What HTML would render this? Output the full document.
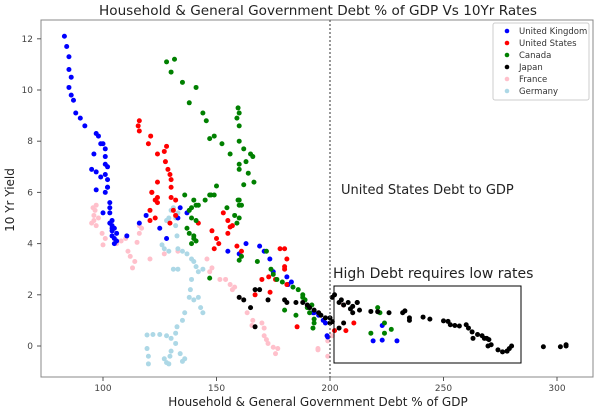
<!DOCTYPE html>
<html><head><meta charset="utf-8">
<style>
body{margin:0;background:#fff;}
svg{display:block;font-family:"DejaVu Sans","Liberation Sans",sans-serif;}
</style></head>
<body>
<svg id="chart" width="606" height="416" viewBox="0 0 606 416" xmlns="http://www.w3.org/2000/svg">
<text x="318" y="15" text-anchor="middle" font-size="13.6" fill="#222">Household &amp; General Government Debt % of GDP Vs 10Yr Rates</text>
<rect x="41" y="20" width="552" height="357" fill="#fff" stroke="#888" stroke-width="1"/>
<g id="xticks"></g>
<g id="yticks"></g>
<text x="318" y="406" text-anchor="middle" font-size="12" fill="#222">Household &amp; General Government Debt % of GDP</text>
<text transform="translate(14,200) rotate(-90)" text-anchor="middle" font-size="12" fill="#222">10 Yr Yield</text>
<g id="points"></g>
<line id="vline" stroke="#555" stroke-width="1.2" stroke-dasharray="2,2"/>
<text x="341" y="194" font-size="13" fill="#222">United States Debt to GDP</text>
<text x="333" y="278" font-size="14" fill="#222">High Debt requires low rates</text>
<rect x="334" y="286" width="187" height="77" fill="none" stroke="#000" stroke-width="1"/>
<g>
<rect x="493" y="23" width="96" height="77" fill="#fff" stroke="#ccc" rx="2"/>
<g id="legend-items"></g>
</g>
</svg>
<script>
const xTicks=[100,150,200,250,300];
const yTicks=[0,2,4,6,8,10,12];
const seriesNames=["United Kingdom","United States","Canada","Japan","France","Germany"];
const seriesColors=["#0000ff","#ff0000","#008000","#000000","#ffc0cb","#add8e6"];
const usDebt=200;
const ukX=[83,84,85,85,86,85,86,87,88,90,92,97,98,99,100,101,96,101,101,102,95,97,101,99,102,102,101,97,103,103,100,104,104,104,104,105,105,106,104,105,102,103,103,106,110.5,116,119,125,128,133,137,134,155,160,163,169,171,173.5,175,181,181.5,183,192.5,195,197,198,198.7,199,193,223,223,219,229.5];
const ukY=[12.1,11.7,11.3,10.8,10.5,10.1,9.8,9.6,9.1,8.9,8.6,8.3,8.2,7.9,7.9,7.7,7.5,7.4,7.1,7.0,6.9,6.8,6.7,6.6,6.5,6.2,6.0,6.1,5.6,5.4,5.2,4.9,4.7,4.5,4.3,4.2,4.0,4.1,4.6,4.6,6.2,5.2,4.8,4.4,4.3,4.8,5.1,4.6,4.2,5.0,5.2,5.4,3.7,3.6,4.0,3.9,3.7,3.4,2.9,2.7,2.4,2.5,1.3,1.2,1.0,0.9,0.4,0.35,1.3,0.8,0.23,0.2,0.2];
const usX=[116,115.5,116,121,120,128,127,124,127.5,128.6,129.5,130,130,124,121.5,124,132,124,121.5,123,120.7,120.7,123,130,131,129.5,132,142,153,155,156,148,150,149,151,159,161,178,180,181,180,170,173,176,180,181,173.6,185.5,167,202,207,210.5,206,155,157];
const usY=[8.8,8.6,8.4,8.2,7.9,7.8,7.6,7.5,7.2,6.9,6.7,6.5,6.2,6.4,6.0,5.8,5.7,5.6,6.0,5.7,5.3,4.9,5.0,5.8,5.3,4.8,5.1,4.8,5.2,4.9,4.65,4.5,4.2,3.8,4.0,3.9,3.7,3.8,3.8,3.4,3.1,2.6,2.7,2.6,3.0,2.4,2.1,0.75,2.0,0.6,0.6,0.9,1.6,4.4,4.7];
const caX=[128,131.5,130,135,141,138,144,145.5,147,149,152.4,156,159.5,160,159,160,160,162,165,166,160,160,164,163,166.5,162,150,147.6,145,136,140,154.6,160,161,139,141,142,158,138,139,141,137,138,140,141,139,140,147,149,159.5,160,160,159,160,161,147,168,172,174,175,176.6,179,183.7,186,188,189,190,192,185,180,191,193,193,192.5,188,221,222,218,224,224,227];
const caY=[11.1,11.2,10.7,10.3,10.1,9.5,9.1,8.8,8.1,8.2,7.9,7.5,9.3,9.1,8.9,8.6,8.0,7.7,7.5,7.4,7.1,6.9,6.75,7.2,6.4,6.3,6.25,5.9,5.7,5.9,5.7,5.4,5.7,5.5,5.4,5.5,5.5,5.1,5.3,5.0,4.9,4.6,4.4,4.3,4.1,4.0,4.2,5.9,5.9,5.7,5.5,5.0,4.8,3.35,3.5,2.65,3.3,3.7,3.0,2.8,2.6,2.5,2.3,2.2,2.0,1.8,1.5,1.6,1.2,1.4,1.3,1.05,0.9,0.7,1.9,1.5,1.3,0.5,0.5,0.9,0.65];
const jpX=[160,162,165,167,169,167,172.7,180,181,185,188,190,191,193,195,196,198,200,201,202,204,205,206,208,209,210,212,210,213,212,218,221,226,232,233,235,235,241,244,250,252,253,255,257,260,261,262.6,263,265,267,268,269,270,269.6,271,274,276,278,279,280,278,294,301.5,304,304,201,200,204,206];
const jpY=[1.9,1.8,1.5,2.2,2.2,0.75,1.8,1.8,1.7,1.7,1.7,1.6,1.5,1.4,1.3,1.2,1.1,0.9,1.9,2.0,1.7,1.8,1.6,1.7,1.45,1.55,1.7,1.3,1.4,1.7,1.35,1.34,1.3,1.3,1.37,1.0,1.1,1.13,1.05,0.98,0.96,0.83,0.8,0.78,0.83,0.7,0.55,0.3,0.45,0.4,0.3,0.3,0.25,0.0,0.05,-0.15,-0.23,-0.2,-0.1,0.0,-0.2,-0.03,-0.03,0.05,0.0,0.95,1.1,0.7,0.9];
const frX=[96.5,95.6,96,97,96,98,95,97,99.6,100,101,106,108,110,115,116,116,117,111,114,113,112,120.7,127,133,145.8,148,147,151.5,154,157,156,158,160,163.5,165.6,166,170,171,171,172,172.7,175,176,177,194.7,199,194.7,199,201];
const frY=[5.3,5.4,4.9,5.5,5.1,5.0,4.8,4.7,4.4,3.95,4.2,4.0,4.1,4.2,4.05,4.4,4.7,4.6,3.7,3.3,3.05,3.5,3.4,3.6,3.7,3.4,3.05,2.9,2.6,2.6,2.2,2.4,2.3,1.9,1.3,0.8,1.0,0.9,0.7,0.4,0.25,0.1,-0.05,-0.3,-0.1,-0.15,-0.4,-0.1,0.2,0.4];
const deX=[130,132,132,131,133,129,128,132.6,132,126,127,129,133,135,137,139,140,141,142,144,131,133,139,138.5,138,140,142,143,144,136,135,132.6,132,119.4,122,125,128,130,132,119.4,120,120,129.5,130,128,135,134,136,127,129];
const deY=[5.3,5.1,5.0,5.4,5.2,5.0,4.9,4.3,4.7,3.95,3.8,3.7,3.8,3.7,3.6,3.4,3.3,3.1,2.9,3.0,3.0,3.0,2.6,2.2,1.9,1.8,1.9,1.5,1.3,1.3,1.0,0.75,0.5,0.43,0.45,0.45,0.4,0.3,0.1,-0.1,-0.4,-0.7,-0.4,-0.2,-0.65,-0.6,-0.3,-0.5,-0.5,-0.7];
const allX=[ukX,usX,caX,jpX,frX,deX];
const allY=[ukY,usY,caY,jpY,frY,deY];

const NS="http://www.w3.org/2000/svg";
function sx(v){return 103+(v-100)*2.27;}
function sy(v){return 346-v*25.6;}
function mk(tag,attrs,parent){const e=document.createElementNS(NS,tag);for(const k in attrs)e.setAttribute(k,attrs[k]);parent.appendChild(e);return e;}

const xg=document.getElementById('xticks');
xTicks.forEach(t=>{
  const l=mk('line',{x1:sx(t),x2:sx(t),y1:377,y2:381,stroke:'#555'},xg);
  
  
  const tx=mk('text',{x:sx(t),y:391,'text-anchor':'middle','font-size':'9',fill:'#444'},xg);
  
  
  tx.textContent=t;
});
const yg=document.getElementById('yticks');
yTicks.forEach(t=>{
  const l=mk('line',{x1:37,x2:41,y1:sy(t),y2:sy(t),stroke:'#555'},yg);
  
  
  const tx=mk('text',{x:33,y:sy(t)+3,'text-anchor':'end','font-size':'9',fill:'#444'},yg);
  
  
  tx.textContent=t;
});
const vl=document.getElementById('vline');
vl.setAttribute('x1',sx(usDebt));vl.setAttribute('x2',sx(usDebt));
vl.setAttribute('y1',20);vl.setAttribute('y2',377);

const pg=document.getElementById('points');
const order=[4,5,0,1,2,3];
order.forEach(s=>{
  const xs=allX[s],ys=allY[s];
  for(let i=0;i<Math.min(xs.length,ys.length);i++){
    const c=mk('circle',{cx:sx(xs[i]),cy:sy(ys[i]),r:2.5,fill:seriesColors[s]},pg);
    
    
  }
});
const lg=document.getElementById('legend-items');
seriesNames.forEach((n,i)=>{
  const y=31+i*12;
  const c=mk('circle',{cx:507,cy:y,r:2.3,fill:seriesColors[i]},lg);
  
  
  const t=mk('text',{x:519,y:y+3,'font-size':'8.5',fill:'#333'},lg);
  
  
  t.textContent=n;
});
</script>
</body></html>
